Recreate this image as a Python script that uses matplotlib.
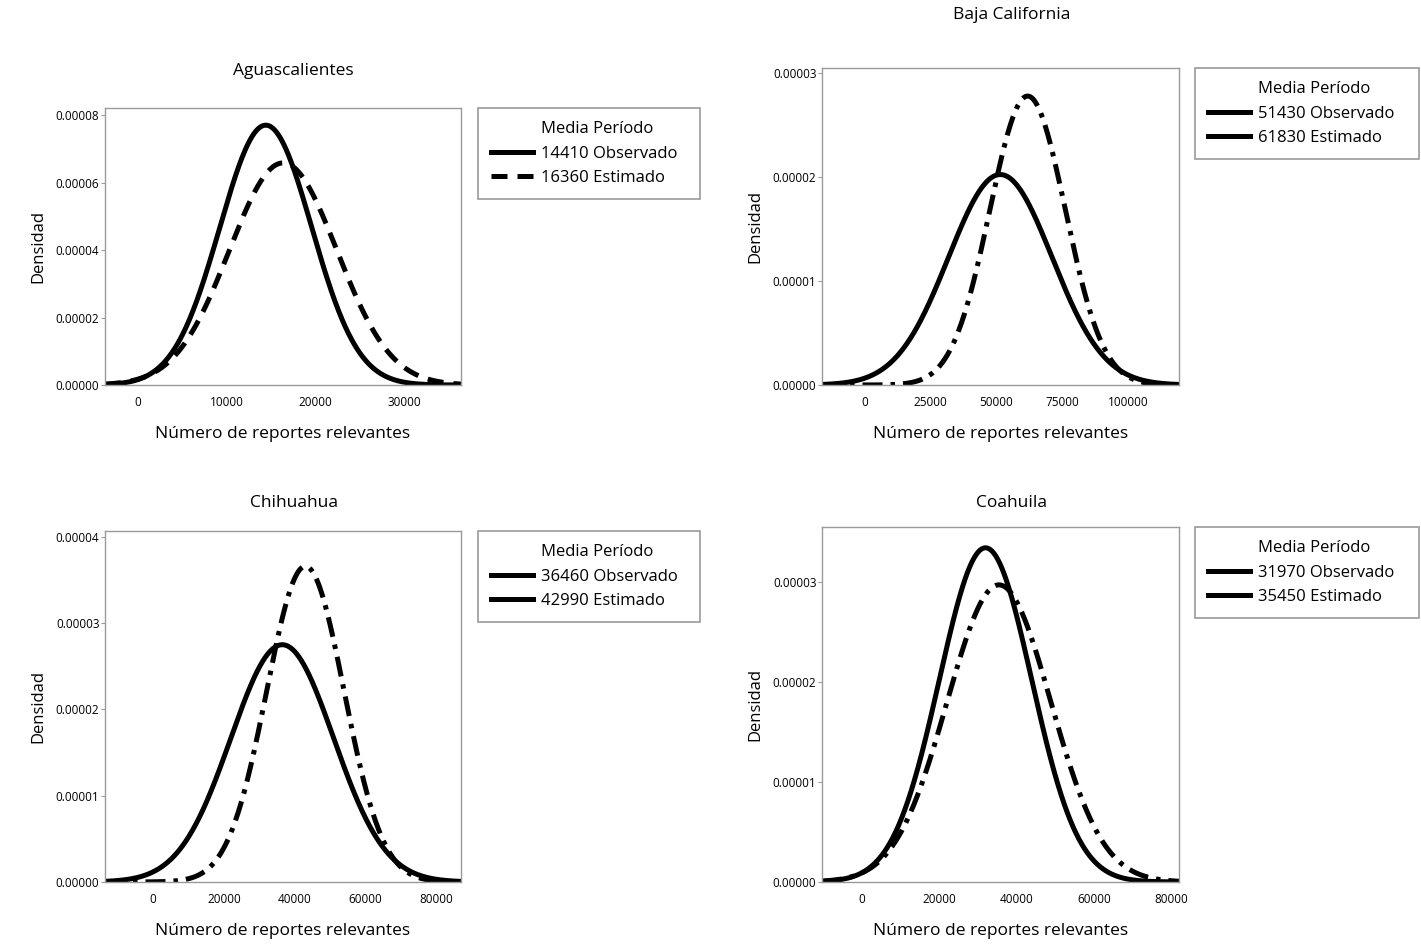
import numpy as np
import matplotlib
matplotlib.use("Agg")
import matplotlib.pyplot as plt
from matplotlib.lines import Line2D

plt.rcParams['font.family'] = ['Open Sans', 'DejaVu Sans']

# values
estados = ["Aguascalientes", "Baja California", "Chihuahua", "Coahuila"]
media_obs = [14410, 51430, 36460, 31970]
media_est = [16360, 61830, 42990, 35450]
sd_obs = [5180, 19700, 14500, 11940]
sd_est = [6060, 14350, 10900, 13430]
x_rango = [(-3700, 36400), (-16350, 119400), (-13540, 86880), (-10360, 82070)]
y_max = [0.0000821, 0.0000305, 0.0000407, 0.0000355]
x_ticks = [[0, 10000, 20000, 30000],
           [0, 25000, 50000, 75000, 100000],
           [0, 20000, 40000, 60000, 80000],
           [0, 20000, 40000, 60000, 80000]]
y_ticks = [[0, 0.00002, 0.00004, 0.00006, 0.00008],
           [0, 0.00001, 0.00002, 0.00003],
           [0, 0.00001, 0.00002, 0.00003, 0.00004],
           [0, 0.00001, 0.00002, 0.00003]]

# layout (figure fractions)
cajas = [[0.0739, 0.5930, 0.2505, 0.2928],
         [0.5785, 0.5930, 0.2512, 0.3351],
         [0.0739, 0.0677, 0.2505, 0.3710],
         [0.5785, 0.0677, 0.2512, 0.3753]]
leyendas = [(0.3364, 0.8858), (0.8410, 0.9281), (0.3364, 0.4387), (0.8410, 0.4429)]
ancho_ley = [0.1562, 0.1576, 0.1562, 0.1576]
titulos_y = [0.925, 0.984, 0.468, 0.468]

gris = "#9a9a9a"
lw = 3.6


def normal(x, m, s):
    return np.exp(-0.5 * ((x - m) / s) ** 2) / (s * np.sqrt(2 * np.pi))


fig = plt.figure(figsize=(14.21, 9.46), dpi=100)

for i in range(4):
    ax = fig.add_axes(cajas[i])
    x = np.linspace(x_rango[i][0], x_rango[i][1], 600)
    ax.plot(x, normal(x, media_obs[i], sd_obs[i]), color="black", lw=lw,
            solid_capstyle="butt")
    if i == 0:
        est_dash = (3.2, 2.0)
    else:
        est_dash = (4.0, 1.6, 0.9, 1.6)
    ax.plot(x, normal(x, media_est[i], sd_est[i]), color="black", lw=lw,
            dashes=est_dash)

    ax.set_xlim(x_rango[i])
    ax.set_ylim(0, y_max[i])
    ax.set_xticks(x_ticks[i])
    ax.set_yticks(y_ticks[i])
    ax.set_xticklabels([str(t) for t in x_ticks[i]], fontsize=8.5)
    ax.set_yticklabels(["%.5f" % t for t in y_ticks[i]], fontsize=8.5)
    ax.tick_params(axis="x", length=0, pad=8)
    ax.tick_params(axis="y", length=3, width=0.8, color=gris, pad=1)
    for sp in ax.spines.values():
        sp.set_color(gris)
        sp.set_linewidth(1.0)

    ax.set_xlabel("Número de reportes relevantes", fontsize=12.5, labelpad=12)
    ax.set_ylabel("Densidad", fontsize=12, labelpad=7)
    cx = cajas[i][0] + cajas[i][2] * 0.53
    fig.text(cx, titulos_y[i], estados[i], fontsize=12.5, ha="center", va="center")

    # legend: first row works as the header "Media Período"
    if i == 0:
        h_est = Line2D([], [], color="black", lw=lw, dashes=(3.2, 2.0))
    else:
        h_est = Line2D([], [], color="black", lw=lw)
    handles = [Line2D([], [], lw=0), Line2D([], [], color="black", lw=lw), h_est]
    labels = ["Media Período",
              "%d Observado" % media_obs[i], "%d Estimado" % media_est[i]]
    leg = fig.legend(handles, labels, loc="upper left",
                     bbox_to_anchor=(leyendas[i][0], leyendas[i][1], ancho_ley[i], 0),
                     mode="expand", fontsize=12,
                     frameon=True, fancybox=False, framealpha=1, edgecolor=gris,
                     handlelength=2.5, handletextpad=0.45, borderpad=0.8,
                     labelspacing=0.5, borderaxespad=0)
    leg.get_frame().set_linewidth(1.2)

fig.savefig("out.png", dpi=100)
